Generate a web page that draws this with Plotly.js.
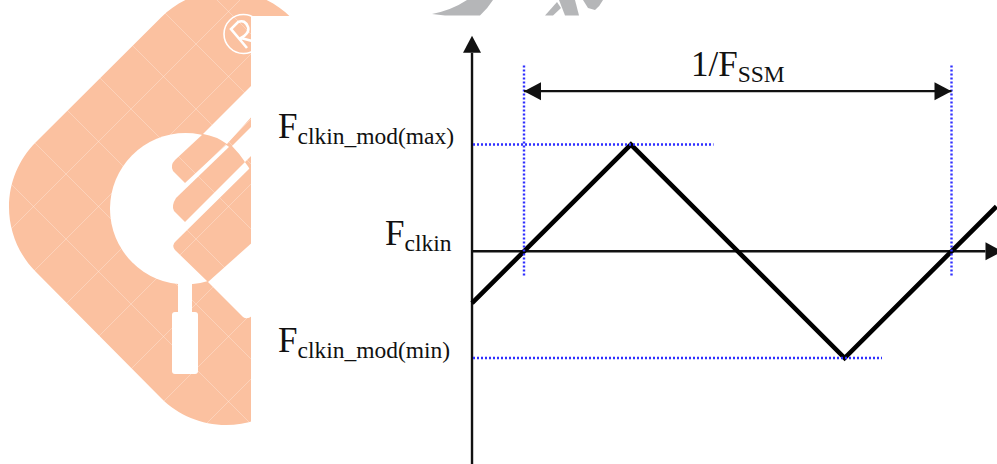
<!DOCTYPE html>
<html>
<head>
<meta charset="utf-8">
<script src="https://cdn.plot.ly/plotly-3.0.1.min.js"></script>
<style>html,body{margin:0;padding:0;background:#fff;overflow:hidden}#c{width:997px;height:464px}</style>
</head>
<body>
<div id="c"></div>
<script>
// Modulation waveform: time in SSM periods, frequency in units of the peak deviation
var waveTime = [-0.1216, 0.25, 0.75, 1.1051];
var waveFreq = [-0.486, 1, -1, 0.42];
var periodStart = 0, periodEnd = 1;
var guideMaxEnd = 0.4433, guideMinEnd = 0.8374, guideLeft = -0.1193;
var guideTop = 1.76, guideBottom = -0.226;
var axisTime = -0.1216, axisRightEnd = 1.0795, axisTopEnd = 1.86, axisBottom = -1.9925;
var spanFreq = 1.5;
var timeRange = [-1.2257, 1.1064];
var freqRange = [-1.9925, 2.354];
var labelMax = 'F<span style="font-size:23.5px;baseline-shift:-6px">clkin_mod(max)</span>';
var labelMid = 'F<span style="font-size:23.5px;baseline-shift:-6px">clkin</span>';
var labelMin = 'F<span style="font-size:23.5px;baseline-shift:-6px">clkin_mod(min)</span>';
var labelPeriod = '1/F<span style="font-size:23.5px;baseline-shift:-6px">SSM</span>';

var inkColor = '#111111', dotColor = '#2f2fff', markOrange = '#fbc1a0', markGrey = '#b5b6b8';
var headLen = 17 / 427.5, headHalf = 9 / 106.75, headLenY = 17 / 106.75, headHalfX = 9 / 427.5;

function line(x, y, color, width, dash) {
  return {x: x, y: y, mode: 'lines', line: {color: color, width: width, dash: dash || 'solid'}, hoverinfo: 'skip', showlegend: false};
}
function head(x, y) {
  return {x: x, y: y, mode: 'lines', fill: 'toself', fillcolor: inkColor, line: {width: 0, color: inkColor}, hoverinfo: 'skip', showlegend: false};
}

var traces = [
  line([axisTime, axisTime], [axisBottom, axisTopEnd], inkColor, 2.4),
  line([axisTime, axisRightEnd], [0, 0], inkColor, 2.4),
  line(waveTime, waveFreq, '#000000', 4.6),
  line([guideLeft, guideMaxEnd], [1, 1], dotColor, 2.4, '2px,2px'),
  line([guideLeft, guideMinEnd], [-1, -1], dotColor, 2.4, '2px,2px'),
  line([periodStart, periodStart], [guideBottom, guideTop], dotColor, 2.4, '2px,2px'),
  line([periodEnd, periodEnd], [guideBottom, guideTop], dotColor, 2.4, '2px,2px'),
  line([periodStart, periodEnd], [spanFreq, spanFreq], inkColor, 2.4),
  head([periodStart, periodStart + headLen, periodStart + headLen, periodStart], [spanFreq, spanFreq + headHalf, spanFreq - headHalf, spanFreq]),
  head([periodEnd, periodEnd - headLen, periodEnd - headLen, periodEnd], [spanFreq, spanFreq + headHalf, spanFreq - headHalf, spanFreq]),
  head([axisTime, axisTime - headHalfX, axisTime + headHalfX, axisTime], [axisTopEnd + headLenY, axisTopEnd, axisTopEnd, axisTopEnd + headLenY]),
  head([axisRightEnd + headLen, axisRightEnd, axisRightEnd, axisRightEnd + headLen], [0, headHalf, -headHalf, 0])
];

// Background watermark, placed in a hidden pixel-sized overlay
function ws(type, extra) {
  var s = {type: type, xref: 'x2', yref: 'y2', layer: 'below', line: {width: 0}};
  for (var k in extra) s[k] = extra[k];
  return s;
}
var shapes = [];
shapes.push(ws('path', {fillcolor: markOrange, path:
  'M36,142 L161,17.5 C178.3,0.2 201.6,-9.5 226,-9.5 C250.4,-9.5 273.7,0.2 291,17.5 L291,398 C273.7,415.3 250.4,425 226,425 C201.6,425 178.3,415.3 161,398 L36,272 C18.7,254.7 9,231.4 9,207 C9,182.6 18.7,159.3 36,142 Z'}));
shapes.push(ws('circle', {x0: 110, x1: 261, y0: 133, y1: 284.5, fillcolor: '#ffffff'}));
// keys
shapes.push(ws('path', {fillcolor: markOrange, path: 'M175,160 L203,134 Q216,136 227,144 L185,183 L173,171 Q170,165 175,160 Z'}));
shapes.push(ws('path', {fillcolor: markOrange, path: 'M176,198 L231,145 Q240,153 245,162 L185,222 L174,211 Q171,206 176,198 Z'}));
shapes.push(ws('path', {fillcolor: markOrange, path: 'M176,241 L250,168 C263,190 265,225 250,246 C240,262 225,275 208,282 L175,250 Q171,245 176,241 Z'}));
// white gaps around keys
shapes.push(ws('path', {fillcolor: '#ffffff', path: 'M203,134 L255,82 L255,113 L227,144 Q216,136 203,134 Z'}));
shapes.push(ws('path', {fillcolor: '#ffffff', path: 'M232,146 L255,123 L255,152 L245,162 Q239,153 232,146 Z'}));
shapes.push(ws('path', {fillcolor: '#ffffff', path: 'M208,282 L243,317 Q247,320 252,316 L255,240 Z'}));
// handle
shapes.push(ws('rect', {x0: 178, x1: 192, y0: 282, y1: 314, fillcolor: '#ffffff'}));
shapes.push(ws('path', {fillcolor: '#ffffff', path: 'M175,312 L195,312 Q198,312 198,315 L198,371 Q198,374 195,374 L175,374 Q172,374 172,371 L172,315 Q172,312 175,312 Z'}));
// registered mark
shapes.push(ws('circle', {x0: 224, x1: 263, y0: 14.5, y1: 53.5, fillcolor: 'rgba(0,0,0,0)', line: {color: '#ffffff', width: 1.6}}));
shapes.push(ws('path', {fillcolor: 'rgba(0,0,0,0)', line: {color: '#ffffff', width: 2.6}, path: 'M247,48 L231,29 L238,22 Q245,19 248,27 Q250,33 241,38 L256,42'}));
// faint diagonal grid
[-217, -152, -87, -22, 43, 108, 173, 238].forEach(function (d) {
  shapes.push(ws('line', {x0: 0, x1: 300, y0: d, y1: d + 300, line: {color: 'rgba(255,255,255,0.28)', width: 1}}));
});
[240, 305, 370, 435, 500, 565, 630].forEach(function (c) {
  shapes.push(ws('line', {x0: 0, x1: 300, y0: c, y1: c - 300, line: {color: 'rgba(255,255,255,0.28)', width: 1}}));
});
// white panel hiding the rest of the mark
shapes.push(ws('rect', {x0: 251, x1: 997, y0: 16, y1: 464, fillcolor: '#ffffff'}));
// grey fragments of the second mark
shapes.push(ws('path', {fillcolor: markGrey, path: 'M432,14 Q452,10 467,0 L493,0 Q488,8 480,15.5 L445,15.5 Z'}));
shapes.push(ws('path', {fillcolor: markGrey, path: 'M545,15.5 L557,2 L561,8 L553,15.5 Z'}));
shapes.push(ws('path', {fillcolor: markGrey, path: 'M559,0 L575,0 L579,15.5 L565,15.5 Z'}));
shapes.push(ws('path', {fillcolor: markGrey, path: 'M583,0 L603,0 Q600,6 595,10 L588,8 Z'}));

function label(text, x, y) {
  return {text: text, xref: 'x2', yref: 'y2', x: x, y: y, xanchor: 'left', yanchor: 'middle', showarrow: false,
    font: {family: '"Liberation Serif", serif', size: 35, color: '#111111'}, borderpad: 0};
}
var annotations = [
  label(labelMax, 277, 128),
  label(labelMid, 384, 235),
  label(labelMin, 277, 342),
  label(labelPeriod, 690, 66)
];

var layout = {
  width: 997, height: 464,
  margin: {l: 0, r: 0, t: 0, b: 0, pad: 0},
  paper_bgcolor: '#ffffff', plot_bgcolor: 'rgba(0,0,0,0)',
  showlegend: false,
  xaxis: {range: timeRange, visible: false, fixedrange: true},
  yaxis: {range: freqRange, visible: false, fixedrange: true},
  xaxis2: {range: [0, 997], visible: false, overlaying: 'x', anchor: 'y2', fixedrange: true},
  yaxis2: {range: [464, 0], visible: false, overlaying: 'y', anchor: 'x2', fixedrange: true},
  shapes: shapes,
  annotations: annotations
};
Plotly.newPlot('c', traces, layout, {displayModeBar: false, staticPlot: true});
</script>
</body>
</html>
